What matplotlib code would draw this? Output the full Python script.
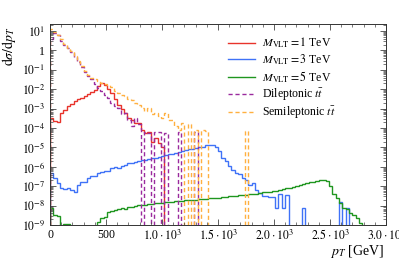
import numpy as np
import matplotlib
matplotlib.use("Agg")
import matplotlib.pyplot as plt
from matplotlib.ticker import FixedLocator, LogLocator, NullFormatter, FuncFormatter

plt.rcParams['font.family'] = 'serif'
plt.rcParams['font.serif'] = ['Liberation Serif', 'DejaVu Serif']
plt.rcParams['mathtext.fontset'] = 'stix'

# 30 GeV bins from 0 to 3 TeV
bin_width = 30
n_bins = 100

vlt_1tev = [3.2e-4, 2.2e-4, 2.0e-4, 5.6e-4, 8.9e-4, 1.3e-3, 1.8e-3, 2.5e-3, 3.2e-3, 3.5e-3,
            4.5e-3, 5.6e-3, 7.1e-3, 9.0e-3, 1.4e-2, 2.1e-2, 1.6e-2, 1.0e-2, 6.3e-3, 3.2e-3,
            1.6e-3, 1.0e-3, 6.3e-4, 3.2e-4, 2.5e-4, 1.8e-4, 1.8e-4, 7.9e-5, 5.6e-5, 6.3e-5,
            2.0e-5, 3.2e-5, 1.6e-5, 1.0e-5] + [0.0] * 66

vlt_3tev = [5.0e-7, 2.5e-7, 1.4e-7, 7.9e-8, 7.1e-8, 7.9e-8, 6.3e-8, 5.0e-8, 1.1e-7, 1.6e-7,
            1.6e-7, 2.5e-7, 3.2e-7, 3.5e-7, 5.0e-7, 5.6e-7, 6.3e-7, 6.3e-7, 8.9e-7, 1.0e-6,
            8.9e-7, 1.1e-6, 1.26e-6, 1.6e-6, 1.6e-6, 1.8e-6, 2.0e-6, 2.2e-6, 2.2e-6, 2.5e-6,
            2.8e-6, 2.8e-6, 3.2e-6, 3.5e-6, 4.0e-6, 4.5e-6, 4.5e-6, 5.0e-6, 5.6e-6, 6.3e-6,
            7.1e-6, 7.9e-6, 7.9e-6, 8.9e-6, 1.0e-5, 1.1e-5, 1.26e-5, 1.3e-5, 1.26e-5, 1.0e-5,
            6.3e-6, 2.8e-6, 2.0e-6, 1.1e-6, 7.1e-7, 5.0e-7, 4.5e-7, 2.5e-7, 2.2e-7, 1.1e-7,
            1.4e-7, 6.3e-8, 4.5e-8, 3.2e-8, 3.2e-8, 2.8e-8, 2.8e-8, 7.9e-9, 4.0e-8, 7.9e-9,
            3.5e-8, 0.0, 0.0, 0.0, 0.0, 7.9e-9, 0.0, 0.0, 0.0, 0.0,
            0.0, 0.0, 0.0, 0.0, 0.0, 0.0, 1.6e-8, 0.0, 7.9e-9] + [0.0] * 11

vlt_5tev = [7.9e-9, 3.2e-9, 2.8e-9, 0.0, 1.1e-9, 1.1e-9, 0.0, 0.0, 0.0, 0.0,
            0.0, 0.0, 0.0, 0.0, 1.4e-9, 2.2e-9, 2.5e-9, 4.5e-9, 5.0e-9, 5.6e-9,
            6.3e-9, 7.1e-9, 6.3e-9, 8.9e-9, 8.9e-9, 1.0e-8, 1.1e-8, 1.1e-8, 1.1e-8, 1.26e-8,
            1.26e-8, 1.3e-8, 1.4e-8, 1.4e-8, 1.5e-8, 1.6e-8, 1.6e-8, 1.65e-8, 1.65e-8, 1.8e-8,
            1.9e-8, 1.9e-8, 2.0e-8, 2.0e-8, 2.1e-8, 2.2e-8, 2.2e-8, 2.4e-8, 2.5e-8, 2.5e-8,
            2.6e-8, 2.8e-8, 2.8e-8, 3.0e-8, 3.2e-8, 3.2e-8, 3.4e-8, 3.5e-8, 3.5e-8, 3.8e-8,
            4.0e-8, 4.2e-8, 4.5e-8, 4.8e-8, 5.0e-8, 5.2e-8, 5.6e-8, 6.0e-8, 6.3e-8, 7.1e-8,
            7.9e-8, 8.3e-8, 8.9e-8, 1.0e-7, 1.1e-7, 1.26e-7, 1.4e-7, 1.6e-7, 1.66e-7, 1.8e-7,
            2.0e-7, 2.1e-7, 1.9e-7, 1.0e-7, 4.0e-8, 2.5e-8, 1.4e-8, 7.9e-9, 6.3e-9, 4.0e-9,
            3.2e-9, 2.2e-9, 1.26e-9] + [0.0] * 7

tt_dilep = [4.0, 8.0, 6.0, 3.2, 2.0, 1.26, 0.8, 0.45, 0.25, 0.14,
            7.9e-2, 5.0e-2, 3.2e-2, 1.8e-2, 1.1e-2, 7.9e-3, 5.0e-3, 3.5e-3, 2.0e-3, 1.4e-3,
            1.1e-3, 5.0e-4, 6.3e-4, 2.5e-4, 1.26e-4, 3.2e-4, 1.6e-4, 0.0, 6.3e-5, 5.6e-5,
            0.0, 6.3e-5, 6.3e-5, 0.0, 5.6e-5, 0.0, 0.0, 0.0, 6.3e-5, 0.0,
            0.0, 0.0, 0.0, 6.3e-5] + [0.0] * 56

tt_semilep = [12.0, 8.9, 6.3, 4.0, 2.2, 1.4, 0.89, 0.5, 0.28, 0.16,
              8.9e-2, 5.6e-2, 4.0e-2, 3.2e-2, 2.5e-2, 2.2e-2, 1.8e-2, 1.6e-2, 1.26e-2, 7.9e-3,
              6.3e-3, 5.0e-3, 4.5e-3, 3.2e-3, 2.8e-3, 2.0e-3, 1.6e-3, 1.1e-3, 7.9e-4, 1.1e-3,
              5.0e-4, 6.3e-4, 4.0e-4, 3.2e-4, 6.3e-4, 2.5e-4, 2.5e-4, 1.26e-4, 7.9e-5, 1.8e-4,
              0.0, 1.6e-4, 0.0, 7.9e-5, 0.0, 7.9e-5, 7.1e-5, 0.0, 0.0, 0.0,
              0.0, 0.0, 0.0, 0.0, 0.0, 0.0, 0.0, 0.0, 7.2e-5] + [0.0] * 41

labels = [r'$M_{\mathrm{VLT}} = 1$ TeV', r'$M_{\mathrm{VLT}} = 3$ TeV', r'$M_{\mathrm{VLT}} = 5$ TeV',
          r'Dileptonic $t\bar{t}$', r'Semileptonic $t\bar{t}$']
colors = ['#e8332b', '#3f72f7', '#1f961f', '#9a2a9e', '#ffb040']
series = [vlt_1tev, vlt_3tev, vlt_5tev, tt_dilep, tt_semilep]
styles = ['-', '-', '-', (0, (3, 2)), (0, (3, 2))]

edges = np.arange(n_bins + 1) * bin_width

fig = plt.figure(figsize=(3.99, 2.59), dpi=100)
ax = fig.add_axes([50 / 399, 1 - 225 / 259, 336 / 399, 201 / 259])

floor = 1e-15
handles = []
for vals, c, ls, lab in zip(series, colors, styles, labels):
    v = np.array(vals)
    v = np.where(v > 0, v, floor)
    ax.stairs(v, edges, baseline=floor, color=c, lw=1.0, ls=ls)
    h, = ax.plot([], [], color=c, lw=1.0, ls=ls, label=lab)
    handles.append(h)

ax.set_yscale('log')
ax.set_xlim(0, 3000)
ax.set_ylim(1e-9, 23)

ax.xaxis.set_major_locator(FixedLocator([0, 500, 1000, 1500, 2000, 2500, 3000]))
ax.set_xticklabels(['0', '500', r'$1.0\cdot10^{3}$', r'$1.5\cdot10^{3}$', r'$2.0\cdot10^{3}$',
                    r'$2.5\cdot10^{3}$', r'$3.0\cdot10^{3}$'])
ax.xaxis.set_minor_locator(FixedLocator(np.arange(0, 3001, 100)))

ax.yaxis.set_major_locator(LogLocator(base=10, numticks=20))
ax.yaxis.set_minor_locator(LogLocator(base=10, subs=np.arange(2, 10), numticks=20))
ax.yaxis.set_minor_formatter(NullFormatter())


def ylab(v, pos):
    e = int(round(np.log10(v)))
    if e == 0:
        return '1'
    return r'$10^{%d}$' % e


ax.yaxis.set_major_formatter(FuncFormatter(ylab))

ax.tick_params(which='both', direction='in', top=True, right=True, colors='#444444',
               labelcolor='black', labelsize=8.5)
ax.tick_params(axis='x', which='major', pad=3)
ax.tick_params(which='major', length=4, width=0.6)
ax.tick_params(which='minor', length=2, width=0.5)
for s in ax.spines.values():
    s.set_linewidth(0.7)
    s.set_color('#333333')

ax.set_ylabel(r'$\mathrm{d}\sigma/\mathrm{d}p_T$', fontsize=10)
ax.yaxis.set_label_coords(-0.095, 0.89)
ax.set_xlabel(r'$p_T$ [GeV]', fontsize=10)
ax.xaxis.set_label_coords(0.915, -0.09)

ax.legend(handles=handles, loc='upper left', bbox_to_anchor=(228 / 399, 1 - 36 / 259),
          bbox_transform=fig.transFigure, frameon=False, fontsize=8.5,
          handlelength=2.3, handletextpad=0.55, labelspacing=0.18, borderpad=0, borderaxespad=0)

fig.savefig('out.png', dpi=100)
